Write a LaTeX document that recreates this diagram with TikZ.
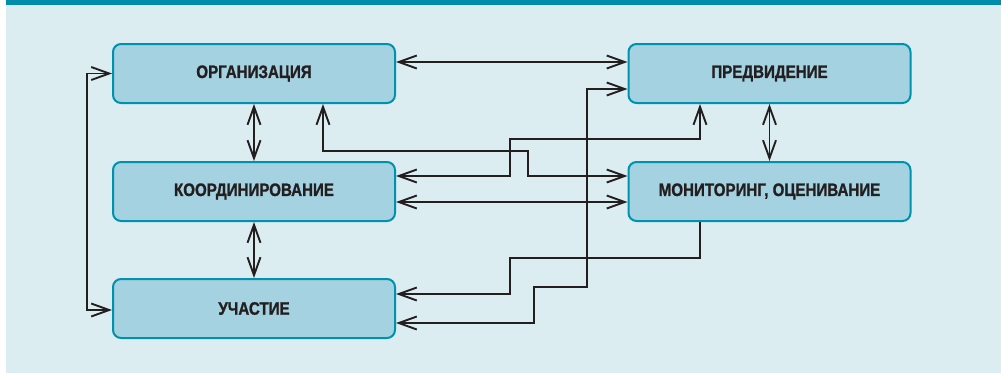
\documentclass[tikz,border=0pt]{standalone}
\usepackage{fontspec}
\newfontfamily\labelfont{Liberation Sans Bold}[FakeStretch=0.84, FakeBold=1.2]
\usetikzlibrary{arrows.meta}
\definecolor{barteal}{HTML}{008DAB}
\definecolor{panel}{HTML}{DCEDF2}
\definecolor{boxfill}{HTML}{A4D2E0}
\definecolor{boxedge}{HTML}{0092AC}
\definecolor{ink}{HTML}{231F20}
\begin{document}
\begin{tikzpicture}[x=1pt,y=-1pt,
  block/.style={draw=boxedge, fill=boxfill, line width=2pt, rounded corners=8pt,
    minimum width=282pt, minimum height=59pt, inner sep=0pt,
    font=\labelfont\fontsize{18}{20}\selectfont, text=ink},
  link/.style={draw=ink, line width=1.9pt,
    arrows={-}, >={Straight Barb[length=18pt,width=13pt]}}]
  % canvas: white strip, light panel, teal top band
  \useasboundingbox (0,0) rectangle (1001,373);
  \fill[white] (0,0) rectangle (1001,373);
  \fill[panel] (6,0) rectangle (1001,373);
  \fill[barteal] (6,0) rectangle (1001,5);

  % blocks
  \node[block] (org)   at (254,73.5)   {ОРГАНИЗАЦИЯ};
  \node[block] (koord) at (254,191.5)  {КООРДИНИРОВАНИЕ};
  \node[block] (uch)   at (254,308.5)  {УЧАСТИЕ};
  \node[block] (pred)  at (769.5,73.5) {ПРЕДВИДЕНИЕ};
  \node[block] (mon)   at (769.5,191.5){МОНИТОРИНГ, ОЦЕНИВАНИЕ};

  % vertical links between neighbouring blocks
  \draw[link,<->] (org.south) -- (koord.north);
  \draw[link,<->] (koord.south) -- (uch.north);
  \draw[link,<->] (pred.south) -- (mon.north);

  % straight horizontal links
  \draw[link,<->] ([yshift=11.5pt]org.east) -- ([yshift=11.5pt]pred.west);
  \draw[link,<->] ([yshift=-10.5pt]koord.east) -- ([yshift=-10.5pt]mon.west);

  % left loop between the top and bottom blocks
  \draw[link,<->] (org.west) -- ++(-25,0) |- ([yshift=-1.5pt]uch.west);

  % stepped links
  \coordinate (k1) at (510,139);
  \draw[link,<->] ([yshift=15.5pt]koord.east) -| (k1) -| ([xshift=-69.5pt]pred.south);

  \coordinate (o1) at (528,151);
  \draw[link,<->] ([xshift=69pt]org.south) |- (o1) |- ([yshift=15.5pt]mon.west);

  \coordinate (m1) at (510,258);
  \draw[link,->] ([xshift=-69.5pt]mon.south) |- (m1) |- ([yshift=14.5pt]uch.east);

  \coordinate (u1) at (534,287);
  \coordinate (u2) at (587,89);
  \draw[link,<->] ([yshift=-14.5pt]uch.east) -| (u1) -| (u2) -- ([yshift=-15.5pt]pred.west);
\end{tikzpicture}
\end{document}
